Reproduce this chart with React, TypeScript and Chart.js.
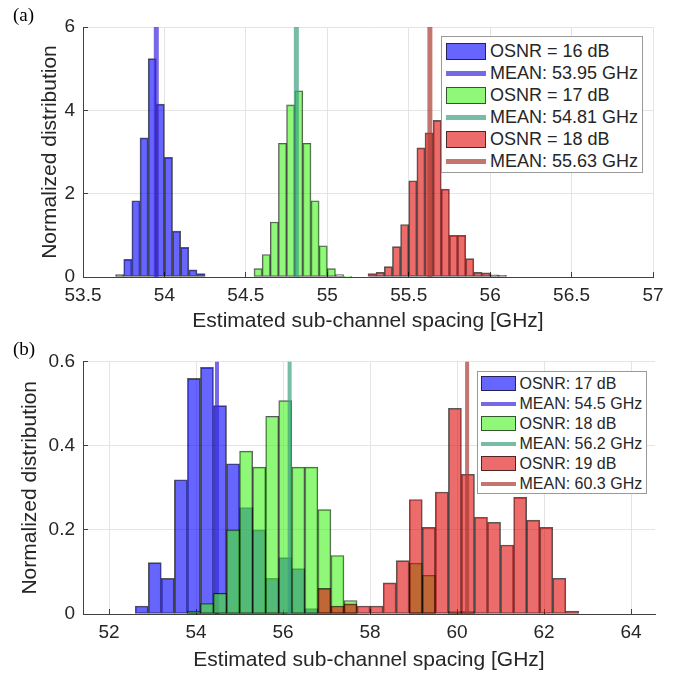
import React, { useEffect, useRef } from 'react';
import { Chart, registerables } from 'chart.js';

Chart.register(...registerables);

const FONT = "'Liberation Sans', Arial, Helvetica, sans-serif";
const SERIF = "'Liberation Serif', 'Times New Roman', serif";
const TEXT = '#262626';
const AXIS = '#404040';
const GRID = '#e4e4e4';
const EDGE = 'rgba(0,0,0,0.65)';
const FILL = ['rgba(0,0,255,0.6)', 'rgba(70,243,30,0.6)', 'rgba(223,8,8,0.6)'];
const MEANCOL = ['rgba(60,40,220,0.7)', 'rgba(60,160,130,0.7)', 'rgba(170,60,50,0.7)'];

// ---------------- Panel (a) ----------------
const binsA16 = [53.725, 53.775, 53.825, 53.875, 53.925, 53.975, 54.025, 54.075, 54.125, 54.175, 54.225];
const valsA16 = [0.056, 0.424, 1.83, 3.34, 5.24, 4.15, 2.87, 1.1, 0.71, 0.17, 0.08];
const binsA17 = [54.575, 54.625, 54.675, 54.725, 54.775, 54.825, 54.875, 54.925, 54.975, 55.025, 55.075, 55.125];
const valsA17 = [0.2, 0.54, 1.32, 3.21, 4.13, 4.47, 3.21, 1.83, 0.75, 0.2, 0.056, 0.016];
const binsA18 = [55.275, 55.325, 55.375, 55.425, 55.475, 55.525, 55.575, 55.625, 55.675, 55.725, 55.775, 55.825, 55.875, 55.925, 55.975, 56.025, 56.075];
const valsA18 = [0.08, 0.11, 0.25, 0.73, 1.26, 2.31, 3.1, 3.46, 3.76, 2.11, 1.0, 1.0, 0.44, 0.11, 0.1, 0.05, 0.04];
const meansA = [53.95, 54.81, 55.63];
const legendA = ['OSNR = 16 dB', 'MEAN: 53.95 GHz', 'OSNR = 17 dB', 'MEAN: 54.81 GHz', 'OSNR = 18 dB', 'MEAN: 55.63 GHz'];
const xTicksA = [53.5, 54, 54.5, 55, 55.5, 56, 56.5, 57];
const xTickLabelsA = ['53.5', '54', '54.5', '55', '55.5', '56', '56.5', '57'];
const yTicksA = [0, 2, 4, 6];
const yTickLabelsA = ['0', '2', '4', '6'];

// ---------------- Panel (b) ----------------
const binsB = [52.75, 53.05, 53.35, 53.65, 53.95, 54.25, 54.55, 54.85, 55.15, 55.45, 55.75, 56.05, 56.35, 56.65, 56.95, 57.25, 57.55, 57.85, 58.15, 58.45, 58.75, 59.05, 59.35, 59.65, 59.95, 60.25, 60.55, 60.85, 61.15, 61.45, 61.75, 62.05, 62.35, 62.65];
const valsB17 = [0.019, 0.122, 0.085, 0.319, 0.56, 0.586, 0.495, 0.357, 0.253, 0.2, 0.085, 0.134, 0.108, 0.013, null, null, null, null, null, null, null, null, null, null, null, null, null, null, null, null, null, null, null, null];
const valsB18 = [null, null, null, null, 0.007, 0.025, 0.049, 0.2, 0.387, 0.349, 0.47, 0.507, 0.349, 0.349, 0.248, 0.139, 0.032, null, null, null, null, 0.121, 0.092, null, 0.006, 0.006, null, null, null, null, null, null, null, null];
const valsB19 = [null, null, null, null, null, null, null, null, null, null, null, null, null, null, 0.061, 0.019, 0.024, 0.019, 0.019, 0.074, 0.127, 0.272, 0.206, 0.29, 0.489, 0.332, 0.23, 0.218, 0.164, 0.277, 0.223, 0.206, 0.085, 0.007];
const meansB = [54.48, 56.15, 60.23];
const legendB = ['OSNR: 17 dB', 'MEAN: 54.5 GHz', 'OSNR: 18 dB', 'MEAN: 56.2 GHz', 'OSNR: 19 dB', 'MEAN: 60.3 GHz'];
const xTicksB = [52, 54, 56, 58, 60, 62, 64];
const xTickLabelsB = ['52', '54', '56', '58', '60', '62', '64'];
const yTicksB = [0, 0.2, 0.4, 0.6];
const yTickLabelsB = ['0', '0.2', '0.4', '0.6'];

const X_TITLE = 'Estimated sub-channel spacing [GHz]';
const Y_TITLE = 'Normalized distribution';

type PanelSpec = {
  series: { bins: number[]; vals: (number | null)[] }[];
  means: number[];
  xMin: number; xMax: number; yMin: number; yMax: number;
  xTicks: number[]; xLabels: string[]; yTicks: number[]; yLabels: string[];
  padding: { top: number; left: number; right: number; bottom: number };
  meanWidth: number;
  xTitlePad: number;
  yTitlePad: number;
};

function buildConfig(p: PanelSpec): any {
  const datasets: any[] = [];
  const n = p.series.length;
  p.series.forEach((s, i) => {
    datasets.push({
      type: 'bar',
      data: s.bins.map((x, j) => ({ x, y: s.vals[j] })),
      backgroundColor: FILL[i],
      borderColor: EDGE,
      borderWidth: 1,
      borderSkipped: false,
      grouped: false,
      barPercentage: 1,
      categoryPercentage: 1,
      order: 2 * (n - i),
    });
    datasets.push({
      type: 'line',
      data: [{ x: p.means[i], y: p.yMin }, { x: p.means[i], y: p.yMax }],
      borderColor: MEANCOL[i],
      borderWidth: p.meanWidth,
      borderCapStyle: 'butt',
      pointRadius: 0,
      fill: false,
      tension: 0,
      order: 2 * (n - i) - 1,
    });
  });
  return {
    type: 'bar',
    data: { datasets },
    options: {
      responsive: false,
      animation: false,
      devicePixelRatio: 1,
      layout: { padding: p.padding },
      plugins: { legend: { display: false }, tooltip: { enabled: false } },
      events: [],
      scales: {
        x: {
          type: 'linear',
          min: p.xMin,
          max: p.xMax,
          offset: false,
          afterFit: (s: any) => { s.height = 60; },
          afterBuildTicks: (s: any) => { s.ticks = p.xTicks.map((v) => ({ value: v })); },
          grid: { color: GRID, offset: false, drawTicks: true, tickLength: -5, tickColor: AXIS, tickWidth: 1 },
          border: { color: AXIS, width: 1 },
          ticks: {
            autoSkip: false, maxRotation: 0, padding: 12,
            font: { size: 19, family: FONT }, color: TEXT,
            callback: (_v: any, idx: number) => p.xLabels[idx],
          },
          title: { display: true, text: X_TITLE, color: TEXT, font: { size: 21, family: FONT }, padding: { top: 0, bottom: p.xTitlePad } },
        },
        y: {
          type: 'linear',
          min: p.yMin,
          max: p.yMax,
          afterFit: (s: any) => { s.width = 83; },
          afterBuildTicks: (s: any) => { s.ticks = p.yTicks.map((v) => ({ value: v })); },
          grid: { color: GRID, drawTicks: true, tickLength: -5, tickColor: AXIS, tickWidth: 1 },
          border: { color: AXIS, width: 1 },
          ticks: {
            autoSkip: false, padding: 13,
            font: { size: 19, family: FONT }, color: TEXT,
            callback: (_v: any, idx: number) => p.yLabels[idx],
          },
          title: { display: true, text: Y_TITLE, color: TEXT, font: { size: 21, family: FONT }, padding: { top: p.yTitlePad, bottom: 0 } },
        },
      },
    },
  };
}

const specA: PanelSpec = {
  series: [
    { bins: binsA16, vals: valsA16 },
    { bins: binsA17, vals: valsA17 },
    { bins: binsA18, vals: valsA18 },
  ],
  means: meansA,
  xMin: 53.5, xMax: 57, yMin: 0, yMax: 6,
  xTicks: xTicksA, xLabels: xTickLabelsA, yTicks: yTicksA, yLabels: yTickLabelsA,
  padding: { top: 27, left: 0, right: 41, bottom: 340 },
  meanWidth: 5,
  xTitlePad: 3.4,
  yTitlePad: 38,
};

const specB: PanelSpec = {
  series: [
    { bins: binsB, vals: valsB17 },
    { bins: binsB, vals: valsB18 },
    { bins: binsB, vals: valsB19 },
  ],
  means: meansB,
  xMin: 51.4, xMax: 64.55, yMin: 0, yMax: 0.6,
  xTicks: xTicksB, xLabels: xTickLabelsB, yTicks: yTicksB, yLabels: yTickLabelsB,
  padding: { top: 361.5, left: 0, right: 39, bottom: 3 },
  meanWidth: 4,
  xTitlePad: 1,
  yTitlePad: 18,
};

function ChartCanvas({ spec }: { spec: PanelSpec }) {
  const ref = useRef<HTMLCanvasElement | null>(null);
  useEffect(() => {
    if (!ref.current) return;
    const chart = new Chart(ref.current, buildConfig(spec));
    return () => chart.destroy();
  }, [spec]);
  return <canvas ref={ref} width={694} height={677} style={{ position: 'absolute', left: 0, top: 0, width: 694, height: 677 }} />;
}

type LegendBox = { left: number; top: number; width: number; height: number; padTop: number; rowH: number; swLeft: number; swW: number; swH: number; lineW: number; gap: number; fontSize: number };

function Legend({ labels, box }: { labels: string[]; box: LegendBox }) {
  return (
    <div style={{
      position: 'absolute', left: box.left, top: box.top, width: box.width, height: box.height,
      boxSizing: 'border-box', border: '1px solid #9a9a9a', background: '#fff', paddingTop: box.padTop,
      fontFamily: FONT, fontSize: box.fontSize, color: TEXT,
    }}>
      {labels.map((label, i) => {
        const k = Math.floor(i / 2);
        const isPatch = i % 2 === 0;
        return (
          <div key={i} style={{ display: 'flex', alignItems: 'center', height: box.rowH }}>
            <div style={{ width: box.swW, marginLeft: box.swLeft - 1, marginRight: box.gap, display: 'flex', alignItems: 'center' }}>
              {isPatch ? (
                <div style={{ width: box.swW, height: box.swH, boxSizing: 'border-box', background: FILL[k], border: `1px solid ${EDGE}` }} />
              ) : (
                <div style={{ width: box.swW, height: box.lineW, background: MEANCOL[k] }} />
              )}
            </div>
            <span style={{ whiteSpace: 'nowrap', lineHeight: 1 }}>{label}</span>
          </div>
        );
      })}
    </div>
  );
}

const boxA: LegendBox = { left: 441, top: 36, width: 202, height: 137, padTop: 3, rowH: 22, swLeft: 5, swW: 40, swH: 17, lineW: 5, gap: 4, fontSize: 18 };
const boxB: LegendBox = { left: 477, top: 371, width: 170, height: 123, padTop: 1.5, rowH: 20, swLeft: 4, swW: 35, swH: 15, lineW: 4, gap: 3.5, fontSize: 16 };

export default function App() {
  return (
    <div style={{ position: 'absolute', left: 0, top: 0, width: 694, height: 677, background: '#fff', overflow: 'hidden' }}>
      <ChartCanvas spec={specA} />
      <ChartCanvas spec={specB} />
      <Legend labels={legendA} box={boxA} />
      <Legend labels={legendB} box={boxB} />
      <div style={{ position: 'absolute', left: 13, top: 4.5, fontFamily: SERIF, fontSize: 19, lineHeight: 1, color: '#000' }}>(a)</div>
      <div style={{ position: 'absolute', left: 13, top: 339, fontFamily: SERIF, fontSize: 19, lineHeight: 1, color: '#000' }}>(b)</div>
    </div>
  );
}
